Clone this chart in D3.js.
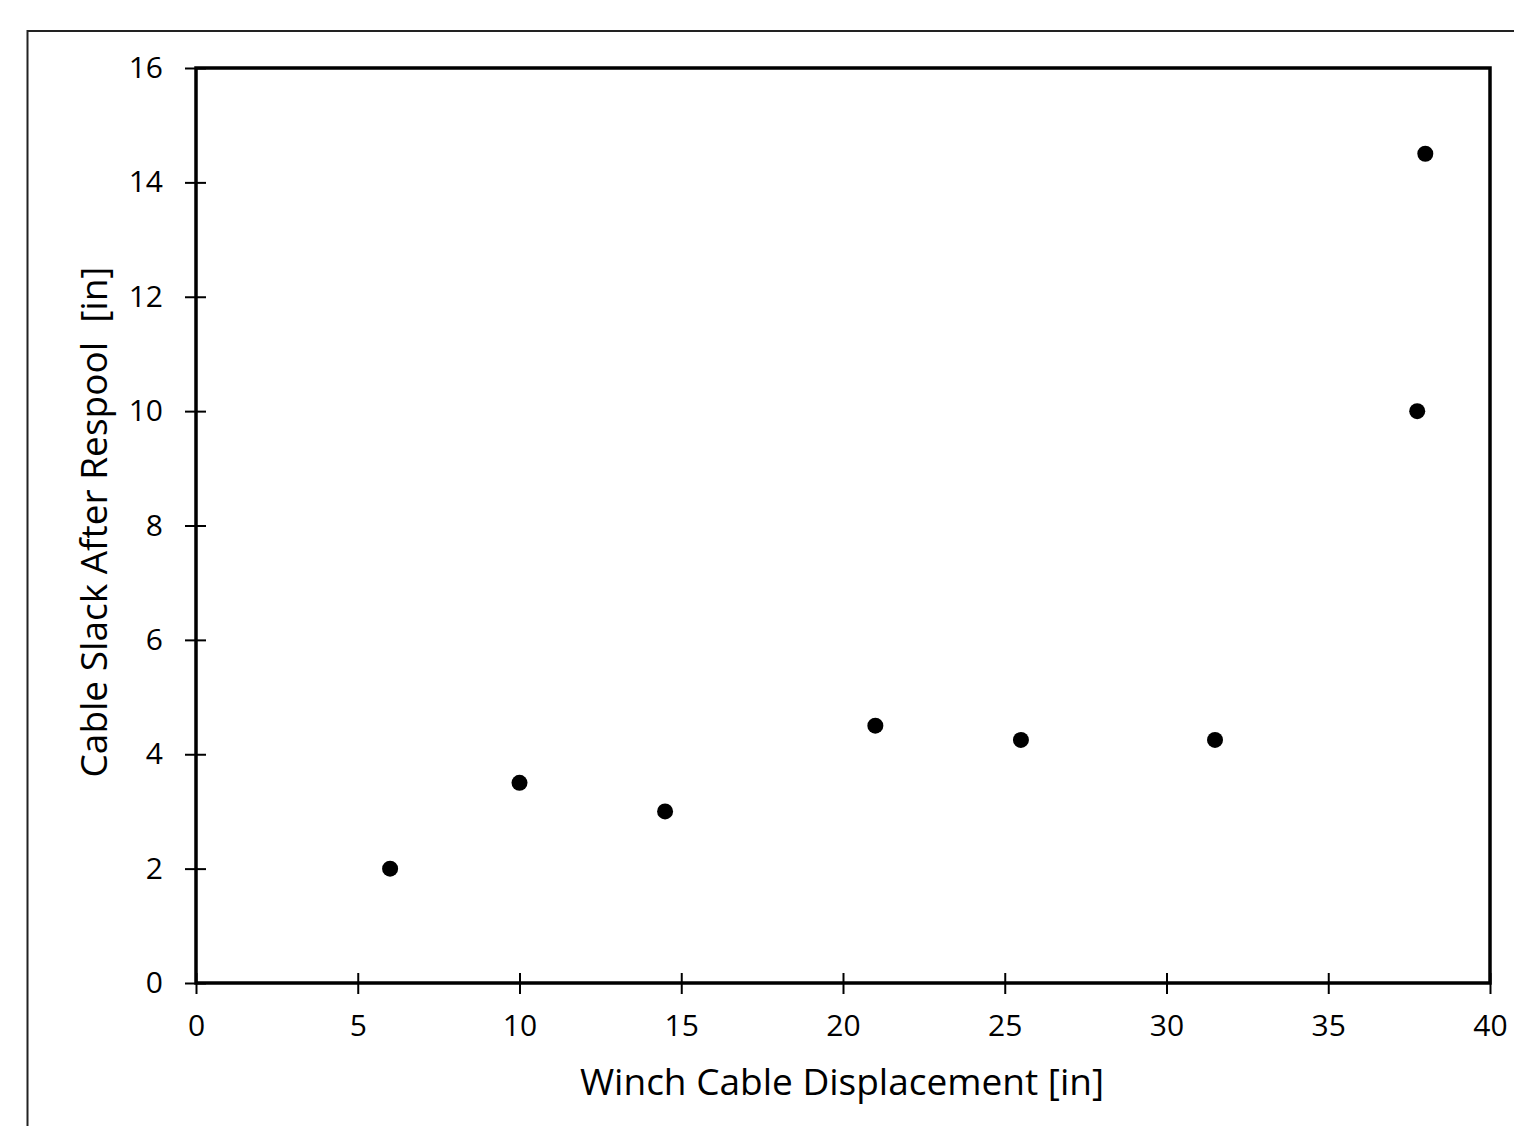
<!DOCTYPE html>
<html><head><meta charset="utf-8">
<script src="https://cdn.jsdelivr.net/npm/d3@7"></script>
<style>body{margin:0;background:#fff}svg{display:block}</style>
</head><body>
<script>
const xValues = [6, 10, 14.5, 21, 25.5, 31.5, 37.75, 38];
const yValues = [2, 3.5, 3, 4.5, 4.25, 4.25, 10, 14.5];
const xTicks = [0, 5, 10, 15, 20, 25, 30, 35, 40];
const yTicks = [0, 2, 4, 6, 8, 10, 12, 14, 16];
const xTitle = "Winch Cable Displacement [in]";
const yTitle = "Cable Slack After Respool\u00a0 [in]";

const W = 1514, H = 1126;
const m = {left: 196, right: 1490, top: 68, bottom: 983};
const svg = d3.select("body").append("svg").attr("width", W).attr("height", H)
  .style("font-family", "'Open Sans', sans-serif");

// outer frame
svg.append("path").attr("d", `M27.5,${H} L27.5,31 L${W},31`)
  .attr("fill", "none").attr("stroke", "#222").attr("stroke-width", 2);

const x = d3.scaleLinear().domain([0, 40]).range([m.left, m.right]);
const y = d3.scaleLinear().domain([0, 16]).range([m.bottom, m.top]);

const xAxis = svg.append("g").attr("transform", `translate(0,${m.bottom})`)
  .call(d3.axisBottom(x).tickValues(xTicks).tickSize(11).tickSizeOuter(0).tickPadding(21));
xAxis.selectAll(".tick line").attr("y1", -10).attr("stroke-width", 2);
xAxis.select(".domain").remove();
xAxis.attr("font-size", 30).attr("font-family", "'Open Sans', sans-serif");
xAxis.selectAll("text").attr("fill", "#000");

const yAxis = svg.append("g").attr("transform", `translate(${m.left},0)`)
  .call(d3.axisLeft(y).tickValues(yTicks).tickSize(11).tickSizeOuter(0).tickPadding(22));
yAxis.selectAll(".tick line").attr("x1", 10).attr("stroke-width", 2);
yAxis.select(".domain").remove();
yAxis.attr("font-size", 30).attr("font-family", "'Open Sans', sans-serif");
yAxis.selectAll("text").attr("fill", "#000");

// plot frame
svg.append("rect").attr("x", m.left).attr("y", m.top)
  .attr("width", m.right - m.left).attr("height", m.bottom - m.top)
  .attr("fill", "none").attr("stroke", "#000").attr("stroke-width", 3.5);

// points
svg.append("g").selectAll("circle").data(xValues.map((v, i) => [v, yValues[i]]))
  .join("circle").attr("cx", d => x(d[0])).attr("cy", d => y(d[1])).attr("r", 8).attr("fill", "#000");

// titles
svg.append("text").attr("x", 842).attr("y", 1095)
  .attr("text-anchor", "middle").attr("font-size", 37).text(xTitle);
svg.append("text").attr("transform", `translate(107,522) rotate(-90)`)
  .attr("text-anchor", "middle").attr("font-size", 37).text(yTitle);
</script>
</body></html>
